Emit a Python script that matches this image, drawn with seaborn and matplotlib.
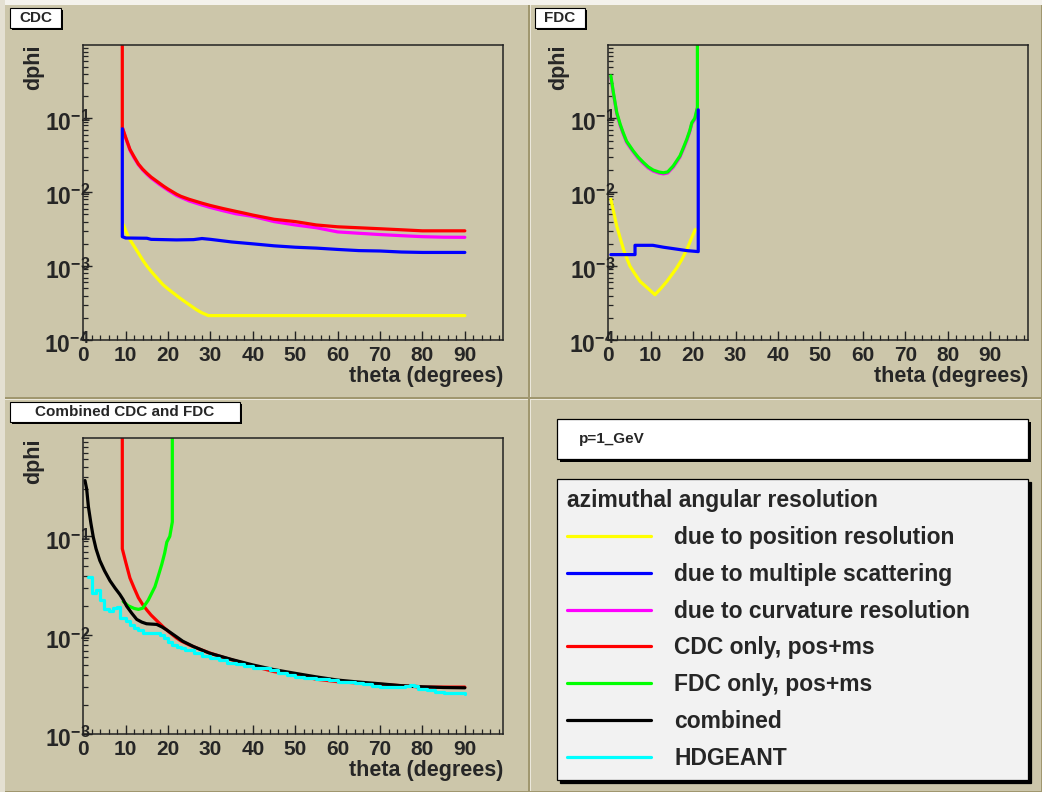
import numpy as np
import pandas as pd
import matplotlib
matplotlib.use("Agg")
import matplotlib.pyplot as plt
import seaborn as sns
from matplotlib.patches import Rectangle
from matplotlib import ticker, transforms

# ---------------- data ----------------
# CDC pad
cdc_pos_theta = [9.5, 10, 11, 12, 13, 14, 15, 16, 17, 18.8, 20, 22.75, 25, 26.7, 28, 29.5, 35, 90]
cdc_pos_val = [0.0036, 0.0030, 0.00228, 0.00185, 0.0015, 0.00121, 0.0010, 0.00085, 0.00073,
               0.00056, 0.00049, 0.00037, 0.00030, 0.000257, 0.000233, 0.000214, 0.000214, 0.000214]

cdc_ms_theta = [9.2, 9.2, 10, 15, 16, 22, 26, 28, 30, 35, 40, 45, 50, 55, 60, 65, 70, 75, 80, 85, 90]
cdc_ms_val = [0.072, 0.0025, 0.0024, 0.00238, 0.0023, 0.00226, 0.00228, 0.00236, 0.0023, 0.00212,
              0.0020, 0.00188, 0.0018, 0.00175, 0.00168, 0.00162, 0.0016, 0.00155, 0.00153,
              0.00153, 0.00153]

cdc_curv_theta = [9.2, 10, 11, 12, 13, 14, 15, 16, 18, 20, 22, 25, 28, 30, 33, 36, 40, 45, 50,
                  55, 60, 65, 70, 75, 80, 85, 90]
cdc_curv_val = [0.075, 0.054, 0.037, 0.029, 0.0235, 0.020, 0.0175, 0.0155, 0.0127, 0.0106, 0.0090,
                0.0076, 0.0067, 0.0062, 0.0056, 0.0051, 0.0047, 0.0040, 0.0036, 0.0033, 0.0029,
                0.00278, 0.00267, 0.00258, 0.0025, 0.00246, 0.00245]

cdc_only_theta = [9.2, 9.2, 10, 11, 12, 13, 14, 15, 16, 18, 19, 20, 22, 23, 25, 28, 30, 33, 36,
                  38, 40, 45, 50, 55, 60, 65, 70, 75, 80, 85, 90]
cdc_only_val = [2.0, 0.075, 0.055, 0.038, 0.030, 0.024, 0.0205, 0.018, 0.016, 0.0132, 0.012,
                0.011, 0.0094, 0.0088, 0.0080, 0.0071, 0.0066, 0.0060, 0.0055, 0.0052, 0.0049,
                0.0043, 0.0040, 0.0036, 0.0034, 0.0033, 0.0032, 0.0031, 0.0030, 0.0030, 0.0030]

# FDC pad
fdc_pos_theta = [0.6, 1.2, 2.0, 2.8, 3.6, 4.3, 5.1, 6.3, 7.5, 9, 11.0, 12.4, 13.8, 15, 16.1,
                 17.3, 18.5, 19.5, 20.5]
fdc_pos_val = [0.0080, 0.0056, 0.00346, 0.0024, 0.00167, 0.0013, 0.0010, 0.00078, 0.00062,
               0.00052, 0.00041, 0.0005, 0.00062, 0.00077, 0.00094, 0.00122, 0.00167, 0.0023,
               0.00312]

fdc_ms_theta = [0.6, 6.3, 6.3, 10.5, 13, 16, 18.5, 21.2, 21.2]
fdc_ms_val = [0.00143, 0.00143, 0.00191, 0.00191, 0.0018, 0.0017, 0.00162, 0.00157, 0.13]

fdc_curv_theta = [0.6, 1.2, 2.0, 2.8, 3.5, 4.3, 5.1, 5.9, 7, 8.2, 9.4, 10.6, 12, 13, 14, 15.3,
                  16.2, 16.9, 17.7, 18.5, 19.2, 19.7, 20.4, 21.0]
fdc_curv_val = [0.36, 0.215, 0.115, 0.080, 0.062, 0.0475, 0.0405, 0.035, 0.029, 0.0247, 0.0213,
                0.0193, 0.0181, 0.0177, 0.0182, 0.0218, 0.026, 0.030, 0.0385, 0.050, 0.066,
                0.085, 0.097, 0.135]

fdc_only_theta = [0.6, 1.2, 2.0, 2.8, 3.5, 4.3, 5.1, 5.9, 7, 8.2, 9.4, 10.6, 12, 13, 14, 15.3,
                  16.2, 16.9, 17.7, 18.5, 19.2, 19.7, 20.4, 21.0, 21.0]
fdc_only_val = [0.375, 0.223, 0.119, 0.083, 0.064, 0.049, 0.042, 0.036, 0.030, 0.0255, 0.022,
                0.0199, 0.0187, 0.0183, 0.0188, 0.0226, 0.027, 0.031, 0.040, 0.052, 0.068,
                0.0875, 0.10, 0.14, 2.0]

# Combined pad
comb_theta = [0.4, 0.8, 1.2, 1.8, 2.35, 3, 3.9, 5, 6.3, 7.5, 8.6, 9.4, 10.2, 11.4, 12.6, 13.8,
              14.9, 16, 17.3, 18.5, 19.6, 21.5, 23.5, 26, 29.8, 35, 40, 45, 50, 55, 60, 65, 70,
              75, 80, 85, 90]
comb_val = [0.367, 0.30, 0.20, 0.135, 0.0986, 0.075, 0.057, 0.045, 0.0356, 0.030, 0.026, 0.023,
            0.0198, 0.0168, 0.0145, 0.0136, 0.0131, 0.0130, 0.0129, 0.0122, 0.0114, 0.0100,
            0.0087, 0.0077, 0.0066, 0.0057, 0.00502, 0.0045, 0.00413, 0.0038, 0.00353, 0.00337,
            0.00324, 0.0031, 0.00302, 0.00297, 0.00295]

hdgeant_theta = [1, 2, 3, 4, 5, 6, 7, 8, 8.6, 10, 11, 12, 13, 14, 15, 16, 17, 18, 19, 20, 21, 22,
                 23, 24, 26, 28, 30, 32, 34, 36, 38, 40, 42, 44, 46, 48, 50, 52, 55, 58, 60, 62,
                 64, 66, 68, 70, 72, 74, 76, 77, 78, 79, 81, 83, 85, 87, 89, 90]
hdgeant_val = [0.039, 0.027, 0.029, 0.023, 0.0183, 0.0178, 0.019, 0.0195, 0.015, 0.0139, 0.0128,
               0.0119, 0.0112, 0.0106, 0.0105, 0.0106, 0.0105, 0.0100, 0.0094, 0.0086, 0.0079,
               0.0077, 0.0075, 0.0071, 0.0067, 0.0062, 0.0059, 0.0057, 0.0053, 0.0051, 0.0049,
               0.0047, 0.00465, 0.0045, 0.0042, 0.0040, 0.0038, 0.0037, 0.0036, 0.0035, 0.0034,
               0.0034, 0.0033, 0.0032, 0.0031, 0.0030, 0.0030, 0.0030, 0.0031, 0.00318, 0.0031,
               0.0029, 0.0028, 0.0027, 0.0026, 0.0026, 0.0026, 0.00258]

legend_labels = ["due to position resolution", "due to multiple scattering",
                 "due to curvature resolution", "CDC only, pos+ms", "FDC only, pos+ms",
                 "combined", "HDGEANT"]
pad_titles = ["CDC", "FDC", "Combined CDC and FDC"]
x_title = "theta (degrees)"
y_title = "dphi"
momentum_label = "p=1_GeV"
legend_header = "azimuthal angular resolution"

# ---------------- style ----------------
sns.set_style("ticks")
plt.rcParams['font.family'] = ['Liberation Sans', 'DejaVu Sans']
plt.rcParams['font.weight'] = 'bold'
plt.rcParams['mathtext.fontset'] = 'custom'
plt.rcParams['mathtext.rm'] = 'Liberation Sans:bold'
plt.rcParams['mathtext.it'] = 'Liberation Sans:bold:italic'
plt.rcParams['mathtext.bf'] = 'Liberation Sans:bold'

BEIGE = '#ccc6aa'
LIGHT = '#ebe8dc'
DARK = '#a0976f'
COL = {'pos': '#ffff00', 'ms': '#0000ff', 'curv': '#ff00ff', 'cdc': '#ff0000',
       'fdc': '#00ff00', 'comb': '#000000', 'geant': '#00ffff'}
LW = 2.3

W, H = 1042, 792
fig = plt.figure(figsize=(W / 100, H / 100), dpi=100)
fig.patch.set_facecolor(BEIGE)


def fx(x):
    return x / W


def fy(y):
    return 1 - y / H


def rect_px(x0, y0, x1, y1, **kw):
    r = Rectangle((fx(x0), fy(y1)), (x1 - x0) / W, (y1 - y0) / H,
                  transform=fig.transFigure, **kw)
    fig.add_artist(r)
    return r


# pad bevels
pads = [(0, 0, 529.5, 398.5), (529.5, 0, 1042, 398.5),
        (0, 398.5, 529.5, 792), (529.5, 398.5, 1042, 792)]
for (x0, y0, x1, y1) in pads:
    rect_px(x0, y0, x1, y1, facecolor=BEIGE, edgecolor='none', zorder=0)
    rect_px(x0, y0, x1, y0 + 1.5, facecolor=LIGHT, edgecolor='none', zorder=0.1)
    rect_px(x0, y0, x0 + 1.5, y1, facecolor=LIGHT, edgecolor='none', zorder=0.1)
    rect_px(x0, y1 - 1.5, x1, y1, facecolor=DARK, edgecolor='none', zorder=0.1)
    rect_px(x1 - 1.5, y0, x1, y1, facecolor=DARK, edgecolor='none', zorder=0.1)
rect_px(0, 0, W, 5, facecolor='#f4f2ec', edgecolor='none', zorder=0.2)
rect_px(0, 0, 5, H, facecolor='#e4e0d2', edgecolor='none', zorder=0.2)


def make_axes(x0, y0, x1, y1):
    return fig.add_axes([fx(x0), fy(y1), (x1 - x0) / W, (y1 - y0) / H])


def log_label(v, pos):
    if v <= 0:
        return ''
    e = int(round(np.log10(v)))
    return r'$10^{%d}$' % e


def style_axes(ax, ymin):
    ax.set_facecolor(BEIGE)
    ax.set_yscale('log')
    ax.set_xlim(0, 99)
    ax.set_ylim(ymin, 0.98)
    ax.xaxis.set_major_locator(ticker.MultipleLocator(10))
    ax.xaxis.set_minor_locator(ticker.MultipleLocator(2))
    ax.yaxis.set_major_locator(ticker.LogLocator(base=10))
    ax.yaxis.set_minor_locator(ticker.LogLocator(base=10, subs=np.arange(2, 10)))
    ax.yaxis.set_minor_formatter(ticker.NullFormatter())
    ax.yaxis.set_major_formatter(ticker.FuncFormatter(log_label))
    ax.tick_params(which='both', direction='in', top=False, right=False, color='#222222')
    ax.tick_params(which='major', length=6.5, width=1)
    ax.tick_params(which='minor', length=3.3, width=0.9)
    ax.tick_params(axis='x', which='major', labelsize=15, pad=4)
    ax.tick_params(axis='y', which='major', labelsize=16.5, pad=-5)
    for s in ax.spines.values():
        s.set_linewidth(1.1)
        s.set_color('#222222')
        s.set_visible(True)
    ax.set_xlabel(x_title, fontsize=15.5, fontweight='bold', loc='right')
    ax.xaxis.set_label_coords(1.0, -0.088)
    ax.set_ylabel(y_title, fontsize=15.5, fontweight='bold', loc='top')
    ax.yaxis.set_label_coords(-0.094, 1.0)
    off = transforms.ScaledTranslation(0, -3 / 100, fig.dpi_scale_trans)
    for lab in ax.get_yticklabels():
        lab.set_transform(lab.get_transform() + off)


def draw(ax, xs, ys, color, **kw):
    sns.lineplot(x=xs, y=ys, ax=ax, color=color, lw=LW, sort=False, estimator=None,
                 legend=False, **kw)
    return ax.lines[-1]


def title_box(x0, y0, x1, y1, text):
    rect_px(x0 + 2, y0 + 2, x1 + 2, y1 + 2, facecolor='black', edgecolor='none', zorder=5)
    rect_px(x0, y0, x1, y1, facecolor='white', edgecolor='black', lw=0.8, zorder=6)
    fig.text(fx((x0 + x1) / 2), fy((y0 + y1) / 2), text, ha='center', va='center',
             fontsize=11, fontweight='bold', zorder=7)


# ---- CDC ----
ax1 = make_axes(83.3, 45, 503, 340)
draw(ax1, cdc_pos_theta, cdc_pos_val, COL['pos'])
draw(ax1, cdc_curv_theta, cdc_curv_val, COL['curv'])
draw(ax1, cdc_only_theta, cdc_only_val, COL['cdc'])
draw(ax1, cdc_ms_theta, cdc_ms_val, COL['ms'])
style_axes(ax1, 1e-4)

# ---- FDC ----
ax2 = make_axes(608.3, 45, 1028.3, 340)
draw(ax2, fdc_curv_theta, fdc_curv_val, COL['curv'])
draw(ax2, fdc_only_theta, fdc_only_val, COL['fdc'])
draw(ax2, fdc_pos_theta, fdc_pos_val, COL['pos'])
draw(ax2, fdc_ms_theta, fdc_ms_val, COL['ms'])
style_axes(ax2, 1e-4)

# ---- Combined ----
ax3 = make_axes(83.3, 438.3, 503, 734.3)
h_cdc = draw(ax3, cdc_only_theta, cdc_only_val, COL['cdc'])
fdc_df = pd.DataFrame({'theta': fdc_only_theta, 'val': fdc_only_val})
fdc_df = fdc_df[fdc_df['theta'] >= 9.4]
h_fdc = draw(ax3, fdc_df['theta'].tolist(), fdc_df['val'].tolist(), COL['fdc'])
h_comb = draw(ax3, comb_theta, comb_val, COL['comb'])
h_geant = draw(ax3, hdgeant_theta, hdgeant_val, COL['geant'], drawstyle='steps-post')
style_axes(ax3, 1e-3)

h_pos = ax1.lines[0]
h_curv = ax1.lines[1]
h_ms = ax1.lines[3]

# pad titles
title_box(10, 8, 61, 28, pad_titles[0])
title_box(535, 8, 585, 28, pad_titles[1])
title_box(10, 402, 240, 422, pad_titles[2])

# momentum box
rect_px(560, 422, 1031, 462, facecolor='black', edgecolor='none', zorder=5)
rect_px(557, 419, 1028, 459, facecolor='white', edgecolor='black', lw=0.9, zorder=6)
fig.text(fx(579), fy(439), momentum_label, ha='left', va='center', fontsize=11,
         fontweight='bold', zorder=7)

# legend
handles = [h_pos, h_ms, h_curv, h_cdc, h_fdc, h_comb, h_geant]
leg = fig.legend(handles=handles, labels=legend_labels, title=legend_header,
                 loc='upper left', bbox_to_anchor=(fx(557), fy(479), (1028 - 557) / W, 0),
                 mode='expand', borderaxespad=0, frameon=True, fancybox=False,
                 edgecolor='black', facecolor='#f2f2f2', framealpha=1,
                 shadow={'ox': 2.5, 'oy': -2.5, 'color': 'black', 'alpha': 1},
                 prop={'weight': 'bold', 'size': 16.5},
                 title_fontproperties={'weight': 'bold', 'size': 16.5},
                 alignment='left', handlelength=3.67, handletextpad=1.0,
                 labelspacing=0.6, borderpad=0.45)
leg.get_frame().set_linewidth(0.9)
for line in leg.get_lines():
    line.set_linewidth(2.3)

fig.savefig('out.png', dpi=100, facecolor=BEIGE)
